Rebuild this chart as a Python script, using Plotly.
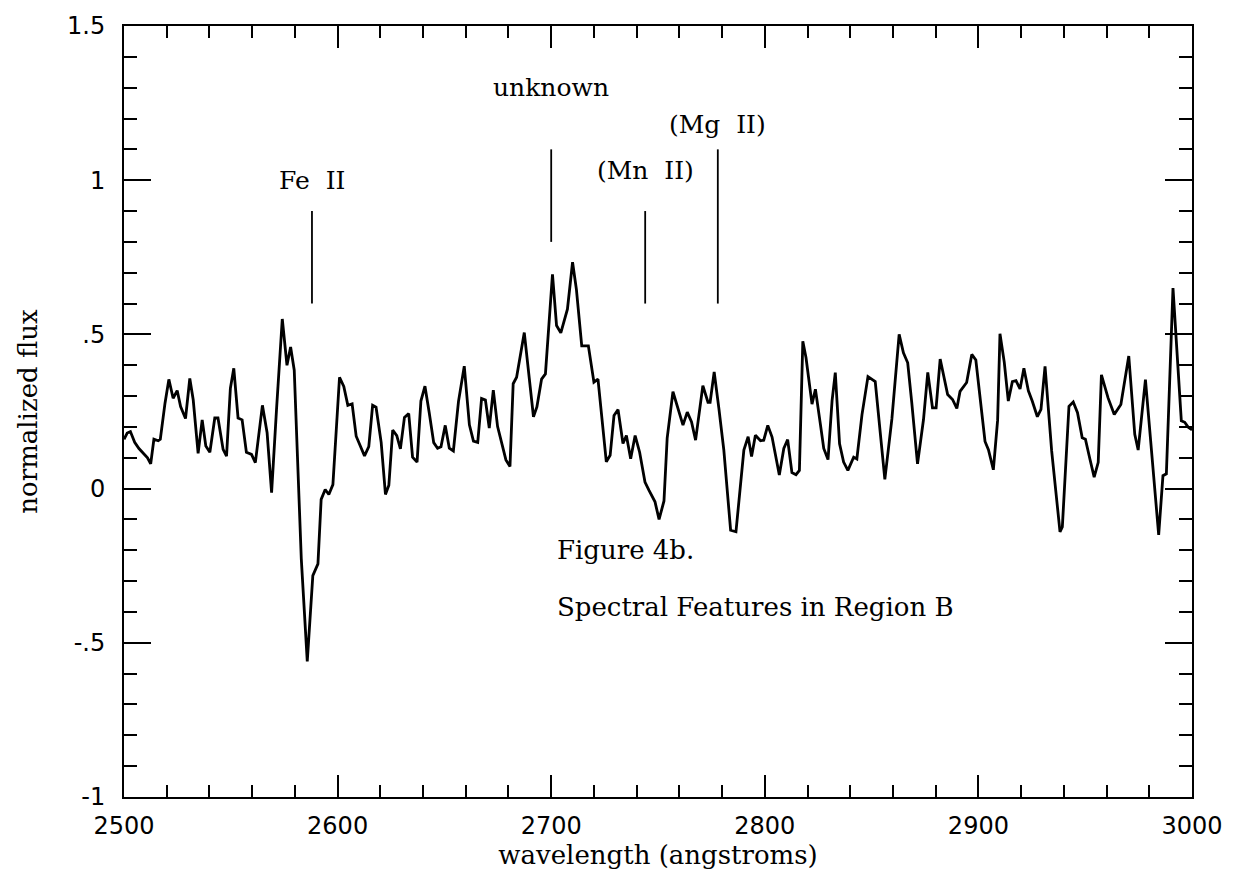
import plotly.graph_objects as go

# Normalized flux spectrum, region B (wavelength in angstroms)
wavelength = [
    2500, 2501.5, 2503, 2505, 2507, 2509, 2511, 2512.5, 2514, 2516, 2517,
    2519.2, 2521, 2523, 2524.9, 2526.5, 2528.8, 2530.8, 2532.4, 2534.7, 2536.6,
    2538.3, 2540.2, 2542.5, 2544, 2546.4, 2548, 2549.8, 2551.4, 2553.4, 2555.3,
    2557.3, 2559.7, 2561.5, 2564.8, 2567, 2569.1, 2571.4, 2574.1, 2576.3, 2578,
    2579.7, 2583, 2585.8, 2588.4, 2590.8, 2592.3, 2594.2, 2595.9, 2597.8, 2600.9,
    2602.9, 2604.8, 2606.8, 2608.7, 2612.6, 2614.6, 2616.4, 2618, 2620.4, 2622.4,
    2624, 2625.8, 2627.7, 2629.4, 2631.3, 2633.3, 2635.1, 2637.2, 2639, 2640.9,
    2642.9, 2645, 2646.8, 2648.4, 2650.4, 2652.3, 2654.2, 2656.6, 2659.3, 2661.7,
    2663.6, 2665.6, 2667.4, 2669.2, 2671, 2672.9, 2674.9, 2676.8, 2678.8, 2680.7,
    2682.2, 2683.8, 2687.4, 2691.7, 2693.3, 2695.5, 2697.3, 2700.6, 2702.5, 2704.5,
    2707.6, 2710, 2711.8, 2714.3, 2717.4, 2720, 2721.9, 2725.8, 2727.6, 2729.4,
    2731.3, 2733.6, 2735.2, 2737.2, 2739.3, 2741.4, 2743.9, 2745.8, 2748.6, 2750.5,
    2752.8, 2754.3, 2757, 2761.7, 2763.7, 2765.7, 2767.6, 2771, 2773.4, 2774.4,
    2776.3, 2778.5, 2780.8, 2784, 2786.5, 2790.2, 2792.2, 2793.8, 2795.6, 2798,
    2799.5, 2801.4, 2803.4, 2806.8, 2808.9, 2810.7, 2812.7, 2814.6, 2816.2, 2817.8,
    2819.3, 2822.1, 2823.7, 2826, 2827.6, 2829.6, 2831.5, 2833, 2835, 2836.9,
    2838.9, 2841.6, 2843.1, 2845.5, 2848.3, 2851.7, 2856.2, 2859.5, 2862.9, 2864.9,
    2866.9, 2868.8, 2871.5, 2874.3, 2876.3, 2878.5, 2880.2, 2882.1, 2885.6, 2887.9,
    2889.9, 2891.4, 2894.5, 2896.9, 2898.8, 2903.1, 2904.7, 2907, 2909, 2910.1,
    2912.1, 2914, 2915.9, 2917.6, 2919.5, 2921.3, 2923.4, 2925.2, 2927.6, 2929.3,
    2931.2, 2934.3, 2938.2, 2939.3, 2942.4, 2944.4, 2946.4, 2948.6, 2950.1, 2952.2,
    2954.2, 2956.1, 2957.6, 2960.7, 2963.6, 2966.7, 2970.4, 2973.2, 2974.8, 2978.2,
    2980.7, 2984.4, 2986.4, 2988, 2991.1, 2995, 2996.6, 2998.1, 3000,
]
flux = [
    0.16, 0.18, 0.185, 0.15, 0.13, 0.115, 0.1, 0.08, 0.16, 0.155, 0.16,
    0.277, 0.354, 0.293, 0.318, 0.266, 0.227, 0.357, 0.288, 0.114, 0.223,
    0.138, 0.118, 0.229, 0.229, 0.127, 0.105, 0.325, 0.39, 0.229, 0.223,
    0.118, 0.111, 0.084, 0.27, 0.181, -0.013, 0.256, 0.55, 0.4, 0.459,
    0.384, -0.228, -0.56, -0.282, -0.244, -0.035, -0.003, -0.019, 0.013, 0.361,
    0.331, 0.27, 0.275, 0.17, 0.106, 0.136, 0.27, 0.264, 0.15, -0.019,
    0.011, 0.19, 0.172, 0.129, 0.231, 0.243, 0.102, 0.086, 0.284, 0.332,
    0.246, 0.149, 0.131, 0.136, 0.205, 0.131, 0.122, 0.283, 0.397, 0.207,
    0.154, 0.15, 0.292, 0.287, 0.196, 0.319, 0.201, 0.147, 0.093, 0.072,
    0.34, 0.361, 0.506, 0.233, 0.265, 0.355, 0.372, 0.695, 0.529, 0.505,
    0.582, 0.734, 0.646, 0.463, 0.463, 0.345, 0.355, 0.087, 0.108, 0.237,
    0.256, 0.146, 0.172, 0.097, 0.172, 0.118, 0.021, -0.006, -0.043, -0.1,
    -0.04, 0.164, 0.314, 0.206, 0.248, 0.216, 0.157, 0.334, 0.28, 0.28,
    0.378, 0.26, 0.126, -0.135, -0.14, 0.125, 0.168, 0.104, 0.173, 0.155,
    0.157, 0.205, 0.167, 0.044, 0.13, 0.159, 0.052, 0.045, 0.059, 0.478,
    0.424, 0.274, 0.322, 0.21, 0.13, 0.094, 0.285, 0.376, 0.145, 0.086,
    0.059, 0.102, 0.096, 0.24, 0.363, 0.347, 0.03, 0.226, 0.5, 0.44,
    0.408, 0.279, 0.08, 0.224, 0.377, 0.262, 0.262, 0.42, 0.305, 0.289,
    0.26, 0.315, 0.344, 0.435, 0.417, 0.153, 0.126, 0.061, 0.222, 0.502,
    0.41, 0.284, 0.347, 0.35, 0.323, 0.39, 0.317, 0.284, 0.233, 0.257,
    0.396, 0.122, -0.14, -0.124, 0.267, 0.281, 0.246, 0.165, 0.16, 0.096,
    0.037, 0.085, 0.369, 0.294, 0.24, 0.273, 0.43, 0.176, 0.125, 0.353,
    0.144, -0.15, 0.042, 0.048, 0.65, 0.22, 0.215, 0.2, 0.19,
]

# Line identifications: marker position, marker extent and label height
line_names = ["Fe  II", "unknown", "(Mn  II)", "(Mg  II)"]
line_wave = [2588, 2700, 2744, 2778]
marker_low = [0.6, 0.8, 0.6, 0.6]
marker_high = [0.9, 1.1, 0.9, 1.1]
label_y = [1.0, 1.3, 1.03, 1.18]

# Axis ticks
x_ticks = [2500, 2600, 2700, 2800, 2900, 3000]
y_ticks = [-1, -0.5, 0, 0.5, 1, 1.5]
y_tick_text = ["-1", "-.5", "0", ".5", "1", "1.5"]

caption_lines = ["Figure 4b.", "Spectral Features in Region B"]
caption_x = 2702
caption_y = [-0.2, -0.385]

SERIF = "DejaVu Serif"
SANS = "DejaVu Sans"

fig = go.Figure()

fig.add_trace(go.Scatter(
    x=wavelength, y=flux, mode="lines",
    line=dict(color="black", width=2.8),
    hoverinfo="skip",
))

for name, w, lo, hi, ly in zip(line_names, line_wave, marker_low, marker_high, label_y):
    fig.add_trace(go.Scatter(
        x=[w, w], y=[lo, hi], mode="lines",
        line=dict(color="black", width=1.8),
        hoverinfo="skip",
    ))
    fig.add_annotation(
        x=w, y=ly, text=name, showarrow=False,
        font=dict(family=SERIF, size=25, color="black"),
        xanchor="center", yanchor="middle",
    )

for txt, cy in zip(caption_lines, caption_y):
    fig.add_annotation(
        x=caption_x, y=cy, text=txt, showarrow=False,
        font=dict(family=SERIF, size=26, color="black"),
        xanchor="left", yanchor="middle",
    )

fig.update_layout(
    width=1235, height=871,
    margin=dict(l=124, r=41, t=21, b=74),
    plot_bgcolor="white", paper_bgcolor="white",
    showlegend=False,
)

fig.update_xaxes(
    range=[2500, 3000],
    tickvals=x_ticks,
    ticks="inside", ticklen=22, tickwidth=1.5, tickcolor="black",
    minor=dict(ticks="inside", dtick=20, ticklen=12, tickwidth=1.5, tickcolor="black"),
    showline=True, linecolor="black", linewidth=2, mirror="ticks",
    showgrid=False, zeroline=False,
    ticklabelstandoff=6,
    tickfont=dict(family=SANS, size=24, color="black"),
    title=dict(text="wavelength (angstroms)", font=dict(family=SERIF, size=26, color="black"),
               standoff=0),
)

fig.update_yaxes(
    range=[-1, 1.5],
    tickvals=y_ticks, ticktext=y_tick_text,
    ticks="inside", ticklen=27, tickwidth=1.5, tickcolor="black",
    minor=dict(ticks="inside", dtick=0.1, ticklen=13, tickwidth=1.5, tickcolor="black"),
    showline=True, linecolor="black", linewidth=2, mirror="ticks",
    showgrid=False, zeroline=False,
    ticklabelstandoff=12,
    tickfont=dict(family=SANS, size=24, color="black"),
    title=dict(text="normalized flux", font=dict(family=SERIF, size=26, color="black"),
               standoff=22),
)

fig.write_html("out.html")
